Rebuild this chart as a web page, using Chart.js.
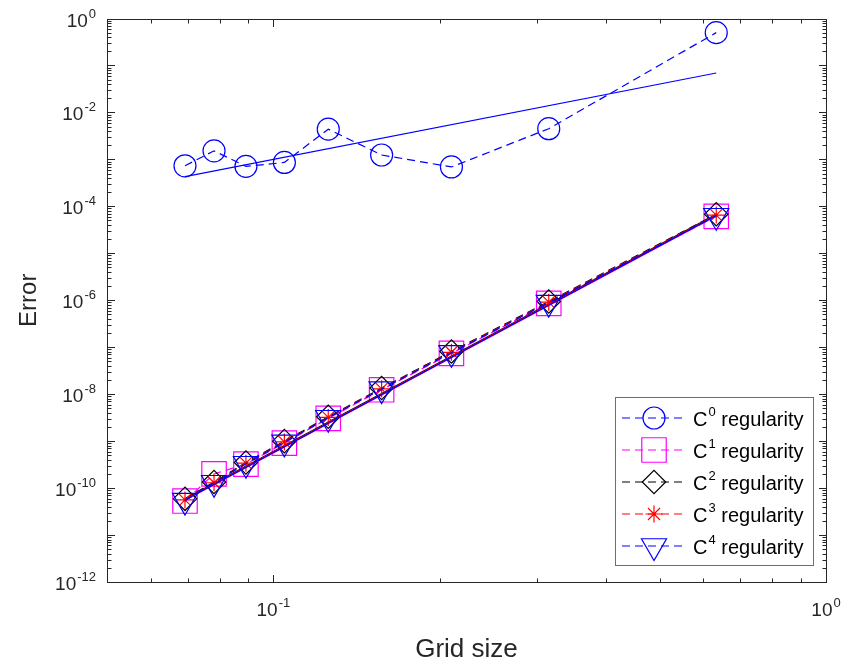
<!DOCTYPE html>
<html>
<head>
<meta charset="utf-8">
<title>Error vs grid size</title>
<script src="https://cdn.jsdelivr.net/npm/chart.js@4.4.0/dist/chart.umd.min.js"></script>
<style>
  html, body { margin: 0; padding: 0; background: #fff; }
  #wrap { width: 849px; height: 664px; position: relative; }
</style>
</head>
<body>
<div id="wrap"><canvas id="err-chart"></canvas></div>
<script>
// grid sizes (same for every regularity)
const gridSize = [0.0692, 0.0781, 0.0892, 0.1047, 0.1257, 0.157, 0.210, 0.315, 0.633];

// measured errors
const errC0 = [7.3e-4, 1.52e-3, 7.1e-4, 8.6e-4, 4.4e-3, 1.24e-3, 6.9e-4, 4.5e-3, 0.5];
const errC1 = [5.3e-11, 2.0e-10, 3.25e-10, 9.1e-10, 3.05e-9, 1.24e-8, 7.4e-8, 8.6e-7, 6.1e-5];
const errC2 = [5.9e-11, 1.35e-10, 3.5e-10, 1.0e-9, 3.3e-9, 1.35e-8, 8.1e-8, 9.4e-7, 6.8e-5];
const errC3 = [5.6e-11, 1.3e-10, 3.4e-10, 9.6e-10, 3.2e-9, 1.3e-8, 7.8e-8, 9.1e-7, 6.5e-5];
const errC4 = [5.4e-11, 1.3e-10, 3.3e-10, 9.4e-10, 3.15e-9, 1.28e-8, 7.6e-8, 8.9e-7, 6.3e-5];

// least-squares fit lines, end points only
const fitH = [0.0692, 0.633];
const fitC0 = [4.3e-4, 0.069];
const fitC1 = [5.5e-11, 6.2e-5];
const fitC2 = [5.9e-11, 6.8e-5];
const fitC3 = [5.7e-11, 6.5e-5];
const fitC4 = [5.6e-11, 6.4e-5];

const regularity = ['0', '1', '2', '3', '4'];
const xLabelExps = [-1, 0];
const yLabelExps = [0, -2, -4, -6, -8, -10, -12];

const FONT = "'Liberation Sans', Arial, Helvetica, sans-serif";
const AXIS = '#262626';

const series = [
  { err: errC0, fit: fitC0, color: '#0000ff', style: 'circle',   radius: 11 },
  { err: errC1, fit: fitC1, color: '#ff00ff', style: 'rect',     radius: 17.3 },
  { err: errC2, fit: fitC2, color: '#000000', style: 'rectRot',  radius: 11.7 },
  { err: errC3, fit: fitC3, color: '#ff0000', style: 'star',     radius: 8.5 },
  { err: errC4, fit: fitC4, color: '#0000ff', style: 'triangle', radius: 14.5, rotation: 180 }
];

const toXY = (xs, ys) => xs.map((x, i) => ({ x: x, y: ys[i] }));

const datasets = [];
series.forEach((s, i) => {
  // later series sit on top
  datasets.push({
    data: toXY(gridSize, s.err),
    showLine: true,
    borderColor: s.color,
    borderWidth: 1.2,
    borderDash: [8, 5],
    pointStyle: s.style,
    pointRadius: s.radius,
    pointRotation: s.rotation || 0,
    pointBorderColor: s.color,
    pointBackgroundColor: 'rgba(0,0,0,0)',
    pointBorderWidth: 1.2,
    order: 20 - 2 * i
  });
  datasets.push({
    data: toXY(fitH, s.fit),
    showLine: true,
    borderColor: s.color,
    borderWidth: 1.2,
    pointRadius: 0,
    order: 19 - 2 * i
  });
});

function drawPow(ctx, exp, x, baseline, align) {
  const big = '19px ' + FONT, small = '13px ' + FONT;
  ctx.font = big;
  const w10 = ctx.measureText('10').width;
  ctx.font = small;
  const wExp = ctx.measureText(String(exp)).width;
  const total = w10 + wExp + 1;
  let left = align === 'center' ? x - total / 2 : x - total;
  ctx.textAlign = 'left';
  ctx.textBaseline = 'alphabetic';
  ctx.font = big;
  ctx.fillText('10', left, baseline);
  ctx.font = small;
  ctx.fillText(String(exp), left + w10 + 1, baseline - 9);
}

function marker(ctx, s, x, y) {
  ctx.save();
  ctx.strokeStyle = s.color;
  ctx.fillStyle = 'rgba(0,0,0,0)';
  ctx.lineWidth = 1.2;
  ctx.setLineDash([]);
  Chart.helpers.drawPoint(ctx, {
    pointStyle: s.style, radius: s.radius, rotation: s.rotation || 0, borderWidth: 1.2
  }, x, y);
  ctx.restore();
}

const matlabAxes = {
  id: 'matlabAxes',
  afterDraw(chart) {
    const ctx = chart.ctx;
    const a = chart.chartArea;
    const xs = chart.scales.x, ys = chart.scales.y;
    const L = Math.round(a.left) + 0.5, R = Math.round(a.right) + 0.5;
    const T = Math.round(a.top) + 0.5, B = Math.round(a.bottom) + 0.5;
    ctx.save();
    ctx.strokeStyle = AXIS;
    ctx.lineWidth = 1;
    ctx.strokeRect(L, T, R - L, B - T);

    const major = 7.5, minor = 4;
    ctx.beginPath();
    // x ticks, top and bottom
    for (let d = -2; d <= 0; d++) {
      for (let m = 1; m <= 9; m++) {
        const v = m * Math.pow(10, d);
        if (v < 0.05 || v > 1.0001) continue;
        const px = Math.round(xs.getPixelForValue(v)) + 0.5;
        const len = m === 1 ? major : minor;
        ctx.moveTo(px, B); ctx.lineTo(px, B - len);
        ctx.moveTo(px, T); ctx.lineTo(px, T + len);
      }
    }
    // y ticks, left and right
    for (let d = -12; d <= 0; d++) {
      for (let m = 1; m <= 9; m++) {
        const v = m * Math.pow(10, d);
        if (v > 1.0001) continue;
        const py = Math.round(ys.getPixelForValue(v)) + 0.5;
        const len = m === 1 ? major : minor;
        ctx.moveTo(L, py); ctx.lineTo(L + len, py);
        ctx.moveTo(R, py); ctx.lineTo(R - len, py);
      }
    }
    ctx.stroke();

    ctx.fillStyle = AXIS;
    xLabelExps.forEach(e => {
      drawPow(ctx, e, xs.getPixelForValue(Math.pow(10, e)), a.bottom + 34, 'center');
    });
    yLabelExps.forEach(e => {
      drawPow(ctx, e, a.left - 11, ys.getPixelForValue(Math.pow(10, e)) + 8, 'right');
    });

    // axis titles
    ctx.textAlign = 'center';
    ctx.textBaseline = 'alphabetic';
    ctx.font = '26px ' + FONT;
    ctx.fillText('Grid size', (a.left + a.right) / 2, 657);
    ctx.save();
    ctx.font = '24px ' + FONT;
    ctx.translate(36, (a.top + a.bottom) / 2);
    ctx.rotate(-Math.PI / 2);
    ctx.fillText('Error', 0, 0);
    ctx.restore();

    // legend
    const lx = 615.5, ly = 397.5, lw = 198, lh = 168;
    ctx.fillStyle = '#ffffff';
    ctx.fillRect(lx, ly, lw, lh);
    ctx.strokeStyle = '#6e6e6e';
    ctx.lineWidth = 1;
    ctx.strokeRect(lx, ly, lw, lh);
    series.forEach((s, i) => {
      const y = 418 + i * 32;
      ctx.save();
      ctx.strokeStyle = s.color;
      ctx.lineWidth = 1.2;
      ctx.setLineDash([8, 5]);
      ctx.beginPath();
      ctx.moveTo(622, y); ctx.lineTo(684, y);
      ctx.stroke();
      ctx.restore();
      marker(ctx, s, 654, y);
      ctx.fillStyle = '#000000';
      ctx.textAlign = 'left';
      ctx.font = '20px ' + FONT;
      ctx.fillText('C', 693, y + 8);
      const wc = ctx.measureText('C').width;
      ctx.font = '13px ' + FONT;
      ctx.fillText(regularity[i], 693 + wc + 1, y - 2);
      const ws = ctx.measureText(regularity[i]).width;
      ctx.font = '20px ' + FONT;
      ctx.fillText(' regularity', 693 + wc + ws + 1, y + 8);
    });
    ctx.restore();
  }
};

new Chart(document.getElementById('err-chart'), {
  type: 'scatter',
  data: { datasets: datasets },
  options: {
    responsive: true,
    maintainAspectRatio: false,
    animation: false,
    events: [],
    layout: { padding: { left: 107, top: 17, right: 23, bottom: 82 } },
    plugins: { legend: { display: false }, tooltip: { enabled: false } },
    scales: {
      x: { type: 'logarithmic', min: 0.05, max: 1, display: false, bounds: 'data' },
      y: { type: 'logarithmic', min: 1e-12, max: 1, display: false, bounds: 'data' }
    }
  },
  plugins: [matlabAxes]
});
</script>
</body>
</html>
